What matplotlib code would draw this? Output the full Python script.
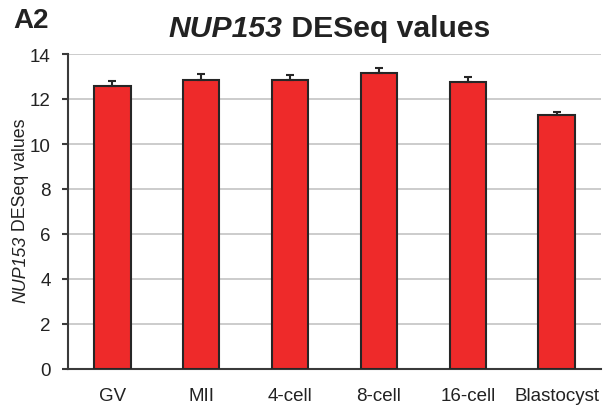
import matplotlib
matplotlib.use("Agg")
import matplotlib.pyplot as plt
import numpy as np

plt.rcParams['font.family'] = ['Liberation Sans', 'DejaVu Sans']

# NUP153 DESeq values per developmental stage
stages = ['GV', 'MII', '4-cell', '8-cell', '16-cell', 'Blastocyst']
means = [12.59, 12.84, 12.86, 13.14, 12.77, 11.28]
errors = [0.21, 0.29, 0.22, 0.26, 0.20, 0.16]
yticks = [0, 2, 4, 6, 8, 10, 12, 14]

fig = plt.figure(figsize=(6.03, 4.06), dpi=100)
ax = fig.add_axes([68 / 603, 36 / 406, 533 / 603, 315 / 406])

x = np.arange(len(stages))
ax.bar(x, means, width=0.41, color='#ee2a2a', edgecolor='#262626',
       linewidth=1.5, zorder=3)
ax.errorbar(x, means, yerr=[np.zeros(len(errors)), errors], fmt='none',
            ecolor='#262626', elinewidth=1.5, capsize=3.2, capthick=1.5,
            zorder=4)

ax.set_xlim(-0.5, 5.5)
ax.set_ylim(0, 14)
ax.set_yticks(yticks)
ax.set_xticks(x)
ax.set_xticklabels(stages)
ax.yaxis.grid(True, color='#c4c4c4', linewidth=1.2, zorder=0)
ax.set_axisbelow(True)

for side in ('top', 'right'):
    ax.spines[side].set_visible(False)
for side in ('left', 'bottom'):
    ax.spines[side].set_color('#3a3a3a')
    ax.spines[side].set_linewidth(1.5)

ax.tick_params(axis='y', direction='out', length=4.5, width=1.5,
               color='#3a3a3a', labelsize=13.5, pad=8, labelcolor='#222222')
ax.tick_params(axis='x', length=0, labelsize=13.5, pad=13, labelcolor='#222222')

fig.text(13 / 603, 1 - 28 / 406, 'A2', fontsize=20, fontweight='bold',
         color='#222222', va='baseline', ha='left')


def mixed_text(parts, cx, cy, size, weight, rotation=0):
    """Place text pieces with different styles end to end, centred on (cx, cy) in pixels."""
    renderer = fig.canvas.get_renderer()
    items = []
    for s, style in parts:
        t = fig.text(0, 0, s, fontsize=size, fontweight=weight, fontstyle=style,
                     color='#222222', ha='left', va='baseline',
                     rotation=rotation, rotation_mode='anchor',
                     transform=None)
        items.append(t)
    ext = [t.get_window_extent(renderer) for t in items]
    lengths = [e.height if rotation else e.width for e in ext]
    total = sum(lengths)
    pos = -total / 2
    for t, ln in zip(items, lengths):
        if rotation:
            t.set_position((cx, cy + pos))
        else:
            t.set_position((cx + pos, cy))
        pos += ln


fig.canvas.draw()
mixed_text([('NUP153', 'italic'), (' DESeq values', 'normal')],
           329.5, 406 - 37, 21.7, 'bold')
mixed_text([('NUP153', 'italic'), (' DESeq values', 'normal')],
           25, 406 - 211, 12.8, 'normal', rotation=90)

fig.savefig('out.png', dpi=100)
